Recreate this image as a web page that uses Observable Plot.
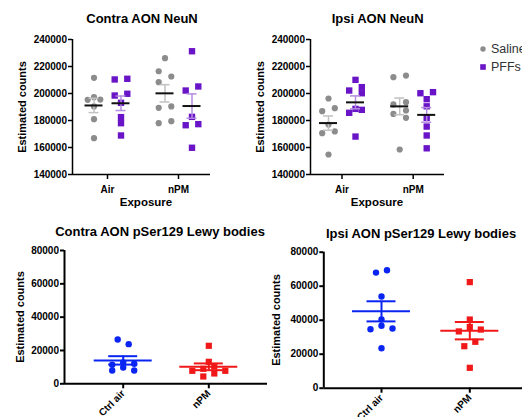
<!DOCTYPE html>
<html><head><meta charset="utf-8">
<script src="https://cdn.jsdelivr.net/npm/d3@7"></script>
<script src="https://cdn.jsdelivr.net/npm/@observablehq/plot@0.6"></script>
<style>
body{margin:0;background:#fff;overflow:hidden;}
#root{position:relative;width:522px;height:417px;overflow:hidden;background:#fff;font-family:"Liberation Sans",Arial,sans-serif;color:#000;}
.abs{position:absolute;white-space:nowrap;line-height:1;}
.title{font-size:13px;font-weight:bold;transform:translateX(-50%);}
.ylab{font-size:11px;font-weight:bold;transform:translate(-50%,-50%) rotate(-90deg);}
.xlab{font-size:11.5px;font-weight:bold;transform:translateX(-50%);}
.leg{font-size:12.5px;color:#333;}
</style></head><body><div id="root"></div>
<script>
// ---------- data ----------
const exposures = ["Air", "nPM"];
const lewyCats = ["Ctrl air", "nPM"];
const treatments = ["Saline", "PFFs"];

const contraSalineAir = [211600, 197300, 195500, 195300, 190400, 181000, 166900];
const contraPffAir    = [210900, 210400, 199800, 198500, 193100, 182500, 178000, 168900];
const contraSalineNpm = [226200, 216500, 212600, 208400, 190400, 189400, 179500, 178000];
const contraPffNpm    = [231300, 205200, 202200, 182700, 177300, 176500, 159800];

const ipsiSalineAir = [196300, 189100, 186900, 177000, 171900, 170600, 154800];
const ipsiPffAir    = [210100, 204700, 202200, 200200, 188600, 187900, 185700, 168100];
const ipsiSalineNpm = [213300, 212100, 193600, 191900, 187400, 184900, 182000, 158500];
const ipsiPffNpm    = [201000, 200200, 195800, 190500, 182000, 175500, 168900, 159400];

const contraLewyCtrlAir = [26600, 23800, 12800, 12000, 11400, 9800, 8000, 8000];
const contraLewyNpm     = [22800, 13200, 10400, 9000, 7800, 7800, 6200, 4400];
const ipsiLewyCtrlAir   = [69400, 68000, 53900, 40400, 36700, 35100, 34700, 23500];
const ipsiLewyNpm       = [62400, 40400, 36000, 34500, 33400, 27300, 24700, 12000];

const neunTicks = [140000, 160000, 180000, 200000, 220000, 240000];
const lewyTicks = [0, 20000, 40000, 60000, 80000];

// ---------- styles ----------
const GRAY = "#8c8c8c", PURPLE = "#6a14c8", GRAY_ERR = "#c2c2c2", PURPLE_ERR = "#b48ce0";
const BLUE = "#0a24f2", RED = "#f01818";

const root = document.getElementById("root");
function label(text, cls, x, y) {
  const d = document.createElement("div");
  d.className = "abs " + cls; d.textContent = text;
  d.style.left = x + "px"; d.style.top = y + "px";
  root.appendChild(d);
}

// GraphPad-like horizontal scatter of points (pixel offsets)
function swarm(values, yS, P) {
  const pts = values.map((v, i) => ({v, i, py: yS(v), off: 0})).sort((a, b) => b.v - a.v);
  const rows = [];
  for (const p of pts) {
    const cur = rows[rows.length - 1];
    if (cur && Math.abs(p.py - cur[0].py) < P.S) cur.push(p); else rows.push([p]);
  }
  for (const r of rows) {
    const n = r.length;
    r.forEach((p, k) => {
      if (n === 1) p.off = 0;
      else if (n % 2 === 1) { const m = Math.ceil(k / 2); p.off = k === 0 ? 0 : (k % 2 ? 1 : -1) * m * P.w; }
      else { const m = Math.floor(k / 2); const s = ((m % 2 === 0) === (k % 2 === 0)) ? 1 : -1; p.off = s * (P.h + m * P.w); }
    });
  }
  rows.forEach((r, j) => {
    if (r.length !== 1) return;
    const p = r[0], prev = rows[j - 1], next = rows[j + 1];
    if (prev && prev.length === 1 && Math.abs(p.py - prev[0].py) < P.T) {
      if (prev[0].off === 0) prev[0].off = -P.h;
      p.off = -prev[0].off;
    } else if (prev && prev.length === 2 && Math.abs(p.py - prev[1].py) < P.T) {
      p.off = -prev[1].off;
    } else if (next && next.length === 2 && Math.abs(p.py - next[0].py) < P.T) {
      p.off = -next[0].off;
    }
  });
  const out = new Array(values.length);
  for (const p of pts) out[p.i] = p.off;
  return out;
}

function panel(cfg) {
  const {left, top, width, height, mL, mR, mT, mB, yDomain, yTicks, cats, groups, unit, padL, padR, lw} = cfg;
  const yS = d3.scaleLinear(yDomain, [height - mB, mT]);
  const x0 = -padL / unit, x1 = 1 + padR / unit;
  const marks = [];
  const statMarks = [];
  for (const g of groups) {
    const cx = g.cat + g.shift / unit;
    const offs = swarm(g.values, yS, cfg.swarm);
    const pts = g.values.map((v, i) => ({x: cx + offs[i] / unit, y: v}));
    marks.push(Plot.dot(pts, {x: "x", y: "y", r: g.r, fill: g.color, stroke: "none", symbol: g.symbol}));
    const m = d3.mean(g.values), se = d3.deviation(g.values) / Math.sqrt(g.values.length);
    const s = [{cx, m, lo: m - se, hi: m + se}];
    const hm = cfg.meanHalf / unit, hc = cfg.capHalf / unit;
    statMarks.push(
      Plot.ruleX(s, {x: "cx", y1: "lo", y2: "hi", stroke: g.err, strokeWidth: cfg.errW}),
      Plot.ruleY(s, {y: "lo", x1: d => d.cx - hc, x2: d => d.cx + hc, stroke: g.err, strokeWidth: cfg.errW}),
      Plot.ruleY(s, {y: "hi", x1: d => d.cx - hc, x2: d => d.cx + hc, stroke: g.err, strokeWidth: cfg.errW}),
      Plot.ruleY(s, {y: "m", x1: d => d.cx - hm, x2: d => d.cx + hm, stroke: g.meanColor, strokeWidth: cfg.meanW})
    );
  }
  const svg = Plot.plot({
    width, height, marginLeft: mL, marginRight: mR, marginTop: mT, marginBottom: mB,
    style: {fontFamily: "'Liberation Sans', Arial, sans-serif", fontSize: "10px", fontWeight: "bold",
            color: "#000", background: "transparent", overflow: "visible"},
    x: {type: "linear", domain: [x0, x1]},
    y: {type: "linear", domain: yDomain},
    marks: [
      Plot.axisY({ticks: yTicks, tickFormat: d => String(d), tickSize: 4, tickPadding: 1.5, strokeWidth: lw, label: null}),
      Plot.axisX({ticks: [0, 1], tickFormat: i => cats[i], tickSize: 5, tickPadding: cfg.xPad,
                  tickRotate: cfg.rotate, strokeWidth: lw, label: null}),
      ...marks,
      ...statMarks,
      Plot.ruleX([x0], {stroke: "#000", strokeWidth: lw}),
      Plot.ruleY([yDomain[0]], {stroke: "#000", strokeWidth: lw})
    ]
  });
  svg.style.position = "absolute";
  svg.style.left = left + "px";
  svg.style.top = top + "px";
  root.appendChild(svg);
}

const neunSwarm = {S: 4.5, T: 5.8, h: 6.3, w: 6.3};
const lewySwarm = {S: 4.5, T: 5.8, h: 5.5, w: 11};
const neunCommon = {height: 210, mT: 39, mB: 36, yDomain: [140000, 240000], yTicks: neunTicks, cats: exposures,
  unit: 71, swarm: neunSwarm, meanHalf: 9, capHalf: 5, errW: 1.5, meanW: 2, lw: 1.5, xPad: 6, rotate: 0};
function neunGroups(sa, pa, sn, pn) {
  return [
    {cat: 0, shift: -13.5, values: sa, color: GRAY, symbol: "circle", r: 3.1, err: GRAY_ERR, meanColor: "#111"},
    {cat: 0, shift: 13.5, values: pa, color: PURPLE, symbol: "square", r: 3.6, err: PURPLE_ERR, meanColor: "#111"},
    {cat: 1, shift: -13.5, values: sn, color: GRAY, symbol: "circle", r: 3.1, err: GRAY_ERR, meanColor: "#111"},
    {cat: 1, shift: 13.5, values: pn, color: PURPLE, symbol: "square", r: 3.6, err: PURPLE_ERR, meanColor: "#111"}
  ];
}

panel({...neunCommon, left: 0, top: 0, width: 261, mL: 72, mR: 51, padL: 35, padR: 32,
  groups: neunGroups(contraSalineAir, contraPffAir, contraSalineNpm, contraPffNpm)});
panel({...neunCommon, left: 261, top: 0, width: 261, mL: 49, mR: 78, padL: 31.5, padR: 31.3, unit: 71.2,
  groups: neunGroups(ipsiSalineAir, ipsiPffAir, ipsiSalineNpm, ipsiPffNpm)});

const lewyCommon = {top: 210, height: 207, yDomain: [0, 80000], yTicks: lewyTicks, cats: lewyCats,
  swarm: lewySwarm, meanHalf: 29, capHalf: 14.5, errW: 2, meanW: 2, lw: 2, xPad: 3, rotate: -45};
function lewyGroups(a, n) {
  return [
    {cat: 0, shift: 0, values: a, color: BLUE, symbol: "circle", r: 3.2, err: BLUE, meanColor: BLUE},
    {cat: 1, shift: 0, values: n, color: RED, symbol: "square", r: 3.5, err: RED, meanColor: RED}
  ];
}
panel({...lewyCommon, left: 0, width: 269, mL: 64, mR: 2, mT: 40, mB: 33.7, unit: 85.6, padL: 58.7, padR: 58.7,
  groups: lewyGroups(contraLewyCtrlAir, contraLewyNpm)});
panel({...lewyCommon, left: 261, width: 268, mL: 62.3, mR: 2, mT: 41.7, mB: 29.3, unit: 88.3, padL: 57.7, padR: 57.7,
  groups: lewyGroups(ipsiLewyCtrlAir, ipsiLewyNpm)});

// ---------- titles & axis labels ----------
label("Contra AON NeuN", "title", 142, 12.3);
label("Ipsi AON NeuN", "title", 377.7, 12.3);
label("Contra AON pSer129 Lewy bodies", "title", 160, 225.3);
label("Ipsi AON pSer129 Lewy bodies", "title", 421, 226.7);
label("Estimated counts", "ylab", 22, 106.5);
label("Estimated counts", "ylab", 260, 106.5);
label("Estimated counts", "ylab", 20, 316.7);
label("Estimated counts", "ylab", 276, 319.7);
label("Exposure", "xlab", 146, 197);
label("Exposure", "xlab", 377, 197);

// ---------- legend ----------
function legendItem(text, shape, color, cy) {
  const ns = "http://www.w3.org/2000/svg";
  const s = document.createElementNS(ns, "svg");
  s.setAttribute("width", 10); s.setAttribute("height", 10);
  s.style.position = "absolute"; s.style.left = "478px"; s.style.top = (cy - 5) + "px";
  const el = shape === "circle" ? document.createElementNS(ns, "circle") : document.createElementNS(ns, "rect");
  if (shape === "circle") { el.setAttribute("cx", 5); el.setAttribute("cy", 5); el.setAttribute("r", 2.7); }
  else { el.setAttribute("x", 2.2); el.setAttribute("y", 2.2); el.setAttribute("width", 5.6); el.setAttribute("height", 5.6); }
  el.setAttribute("fill", color);
  s.appendChild(el); root.appendChild(s);
  label(text, "leg", 491, cy - 6.1);
}
legendItem(treatments[0], "circle", GRAY, 49);
legendItem(treatments[1], "square", PURPLE, 67);
</script></body></html>
